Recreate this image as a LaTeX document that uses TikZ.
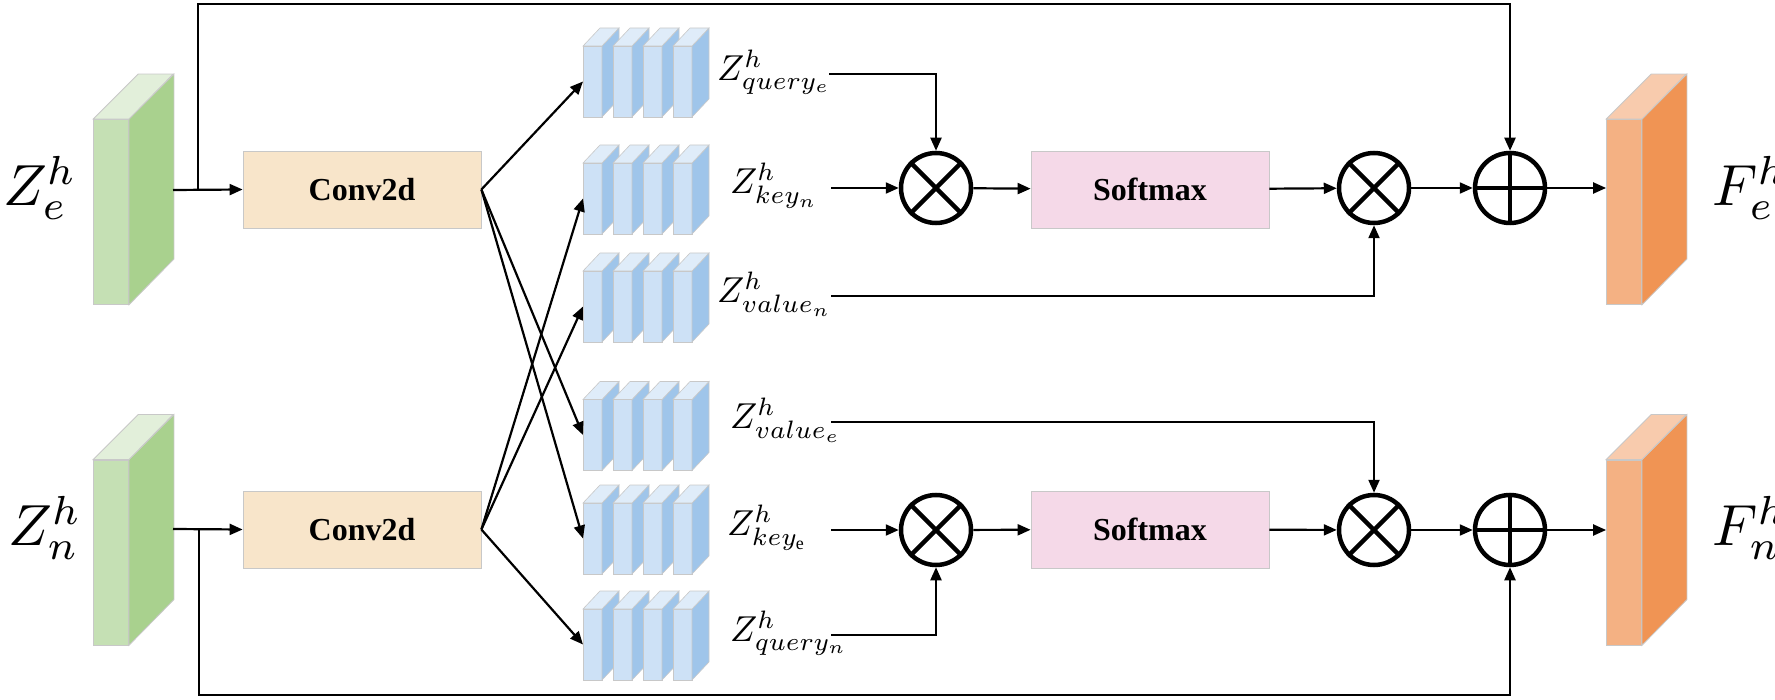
\documentclass[tikz,border=0pt]{standalone}
\usepackage{graphicx}
\usepackage{fontspec}
\setmainfont{Liberation Serif}
\usetikzlibrary{arrows.meta}
\definecolor{gF}{HTML}{C5E0B4}\definecolor{gS}{HTML}{A9D18E}\definecolor{gT}{HTML}{E2EFDA}
\definecolor{oF}{HTML}{F4B183}\definecolor{oS}{HTML}{F09454}\definecolor{oT}{HTML}{F8CBAD}
\definecolor{bF}{HTML}{CDE1F6}\definecolor{bS}{HTML}{9FC5EA}\definecolor{bT}{HTML}{DFECF9}
\definecolor{convC}{HTML}{F8E5CA}\definecolor{smC}{HTML}{F5D9E8}\definecolor{edge}{HTML}{C8C8C8}
\newcommand{\myBigLab}[1]{\scalebox{5.8}{$#1$}}
\newcommand{\mySmallLab}[1]{\scalebox{3.6}{$#1$}}
\tikzset{
  x=1pt,y=-1pt,
  conn/.style={line width=2.2pt,-{Triangle[length=13pt,width=11pt]}},
  box/.style={draw=edge,line width=0.8pt,minimum width=238pt,minimum height=77pt,font=\bfseries\fontsize{32}{34}\selectfont},
  op/.style={circle,draw,line width=4.5pt,minimum size=70pt,inner sep=0pt},
  opl/.style={line width=4.5pt},
  lab/.style={anchor=west,inner sep=0pt},
  face/.style={draw=edge,line width=0.8pt},
}
\begin{document}
\begin{tikzpicture}
\useasboundingbox (0,0) rectangle (1775,700);
\foreach \nm/\x/\y/\F/\S/\T in {ge/111/212/gF/gS/gT, gn/111/552.5/gF/gS/gT, oe/1624/212/oF/oS/oT, on/1624/552.5/oF/oS/oT}{
  \node[face,fill=\F,minimum width=35pt,minimum height=185pt,inner sep=0pt] (\nm) at (\x,\y) {};
  \fill[\S,draw=edge,line width=0.8pt] (\nm.north east) -- ++(45,-45) -- ++(0,185) -- (\nm.south east) -- cycle;
  \fill[\T,draw=edge,line width=0.8pt] (\nm.north west) -- ++(45,-45) -- ++(35,0) -- (\nm.north east) -- cycle;
}
\node (le) at (40,188) {\myBigLab{Z_e^h}};
\node (ln) at (45,528) {\myBigLab{Z_n^h}};
\node (lfe) at (1750,188) {\myBigLab{F_e^h}};
\node (lfn) at (1750,528) {\myBigLab{F_n^h}};
\node[box,fill=convC] (c1) at (362,189.5) {Conv2d};
\node[box,fill=convC] (c2) at (362,529.5) {Conv2d};
\node[box,fill=smC] (sm1) at (1150,189.5) {Softmax};
\node[box,fill=smC] (sm2) at (1150,529.5) {Softmax};
\foreach \i/\t in {1/46,2/163,3/271,4/399.5,5/503,6/609}{
  \foreach \k in {0,1,2,3}{
    \fill[bF,draw=edge,line width=0.6pt] (583+30*\k,\t) rectangle ++(19,71);
    \fill[bS,draw=edge,line width=0.6pt] (602+30*\k,\t) -- ++(17,-18) -- ++(0,71) -- ++(-17,18) -- cycle;
    \fill[bT,draw=edge,line width=0.6pt] (583+30*\k,\t) -- ++(17,-18) -- ++(19,0) -- ++(-17,18) -- cycle;
  }
  \coordinate (s\i) at (583,\t+35.5);
}
\node[lab] (lqe) at (717,72) {\mySmallLab{Z^h_{query_e}}};
\node[lab] (lkn) at (730,186) {\mySmallLab{Z^h_{key_n}}};
\node[lab] (lvn) at (717,294) {\mySmallLab{Z^h_{value_n}}};
\node[lab] (lve) at (730,420) {\mySmallLab{Z^h_{value_e}}};
\node[lab] (lke) at (727,528) {\mySmallLab{Z^h_{key_{\mathrm{e}}}}};
\node[lab] (lqn) at (730,633) {\mySmallLab{Z^h_{query_n}}};
\coordinate (oqe) at (829,74); \coordinate (okn) at (831,188); \coordinate (ovn) at (831,296);
\coordinate (ove) at (831,422); \coordinate (oke) at (831,530); \coordinate (oqn) at (831,635);
\foreach \nm/\x/\y in {m1/936/188,m2/1374/188,m3/936/530,m4/1374/530}{
  \node[op] (\nm) at (\x,\y) {};
  \draw[opl] (\nm.north west) -- (\nm.south east) (\nm.north east) -- (\nm.south west);
}
\foreach \nm/\x/\y in {p1/1510/188,p2/1510/530}{
  \node[op] (\nm) at (\x,\y) {};
  \draw[opl] (\nm.north) -- (\nm.south) (\nm.west) -- (\nm.east);
}
\coordinate (geo) at (173,190); \coordinate (gno) at (173,529);
\coordinate (tb) at (198,190); \coordinate (bb) at (199,529);
\draw[conn] (geo) -- (c1.west);
\draw[conn] (gno) -- (c2.west);
\draw[conn] (tb) -- (198,4) -| (p1.north);
\draw[conn] (bb) -- (199,695) -| (p2.south);
\foreach \s in {1,4,5} \draw[conn] (c1.east) -- (s\s);
\foreach \s in {2,3,6} \draw[conn] (c2.east) -- (s\s);
\draw[conn] (oqe) -| (m1.north);
\draw[conn] (okn) -- (m1.west);
\draw[conn] (ovn) -| (m2.south);
\draw[conn] (ove) -| (m4.north);
\draw[conn] (oke) -- (m3.west);
\draw[conn] (oqn) -| (m3.south);
\draw[conn] (m1) -- (sm1);
\draw[conn] (sm1) -- (m2);
\draw[conn] (m2) -- (p1);
\draw[conn] (p1) -- (oe.west |- p1);
\draw[conn] (m3) -- (sm2);
\draw[conn] (sm2) -- (m4);
\draw[conn] (m4) -- (p2);
\draw[conn] (p2) -- (on.west |- p2);
\end{tikzpicture}
\end{document}
